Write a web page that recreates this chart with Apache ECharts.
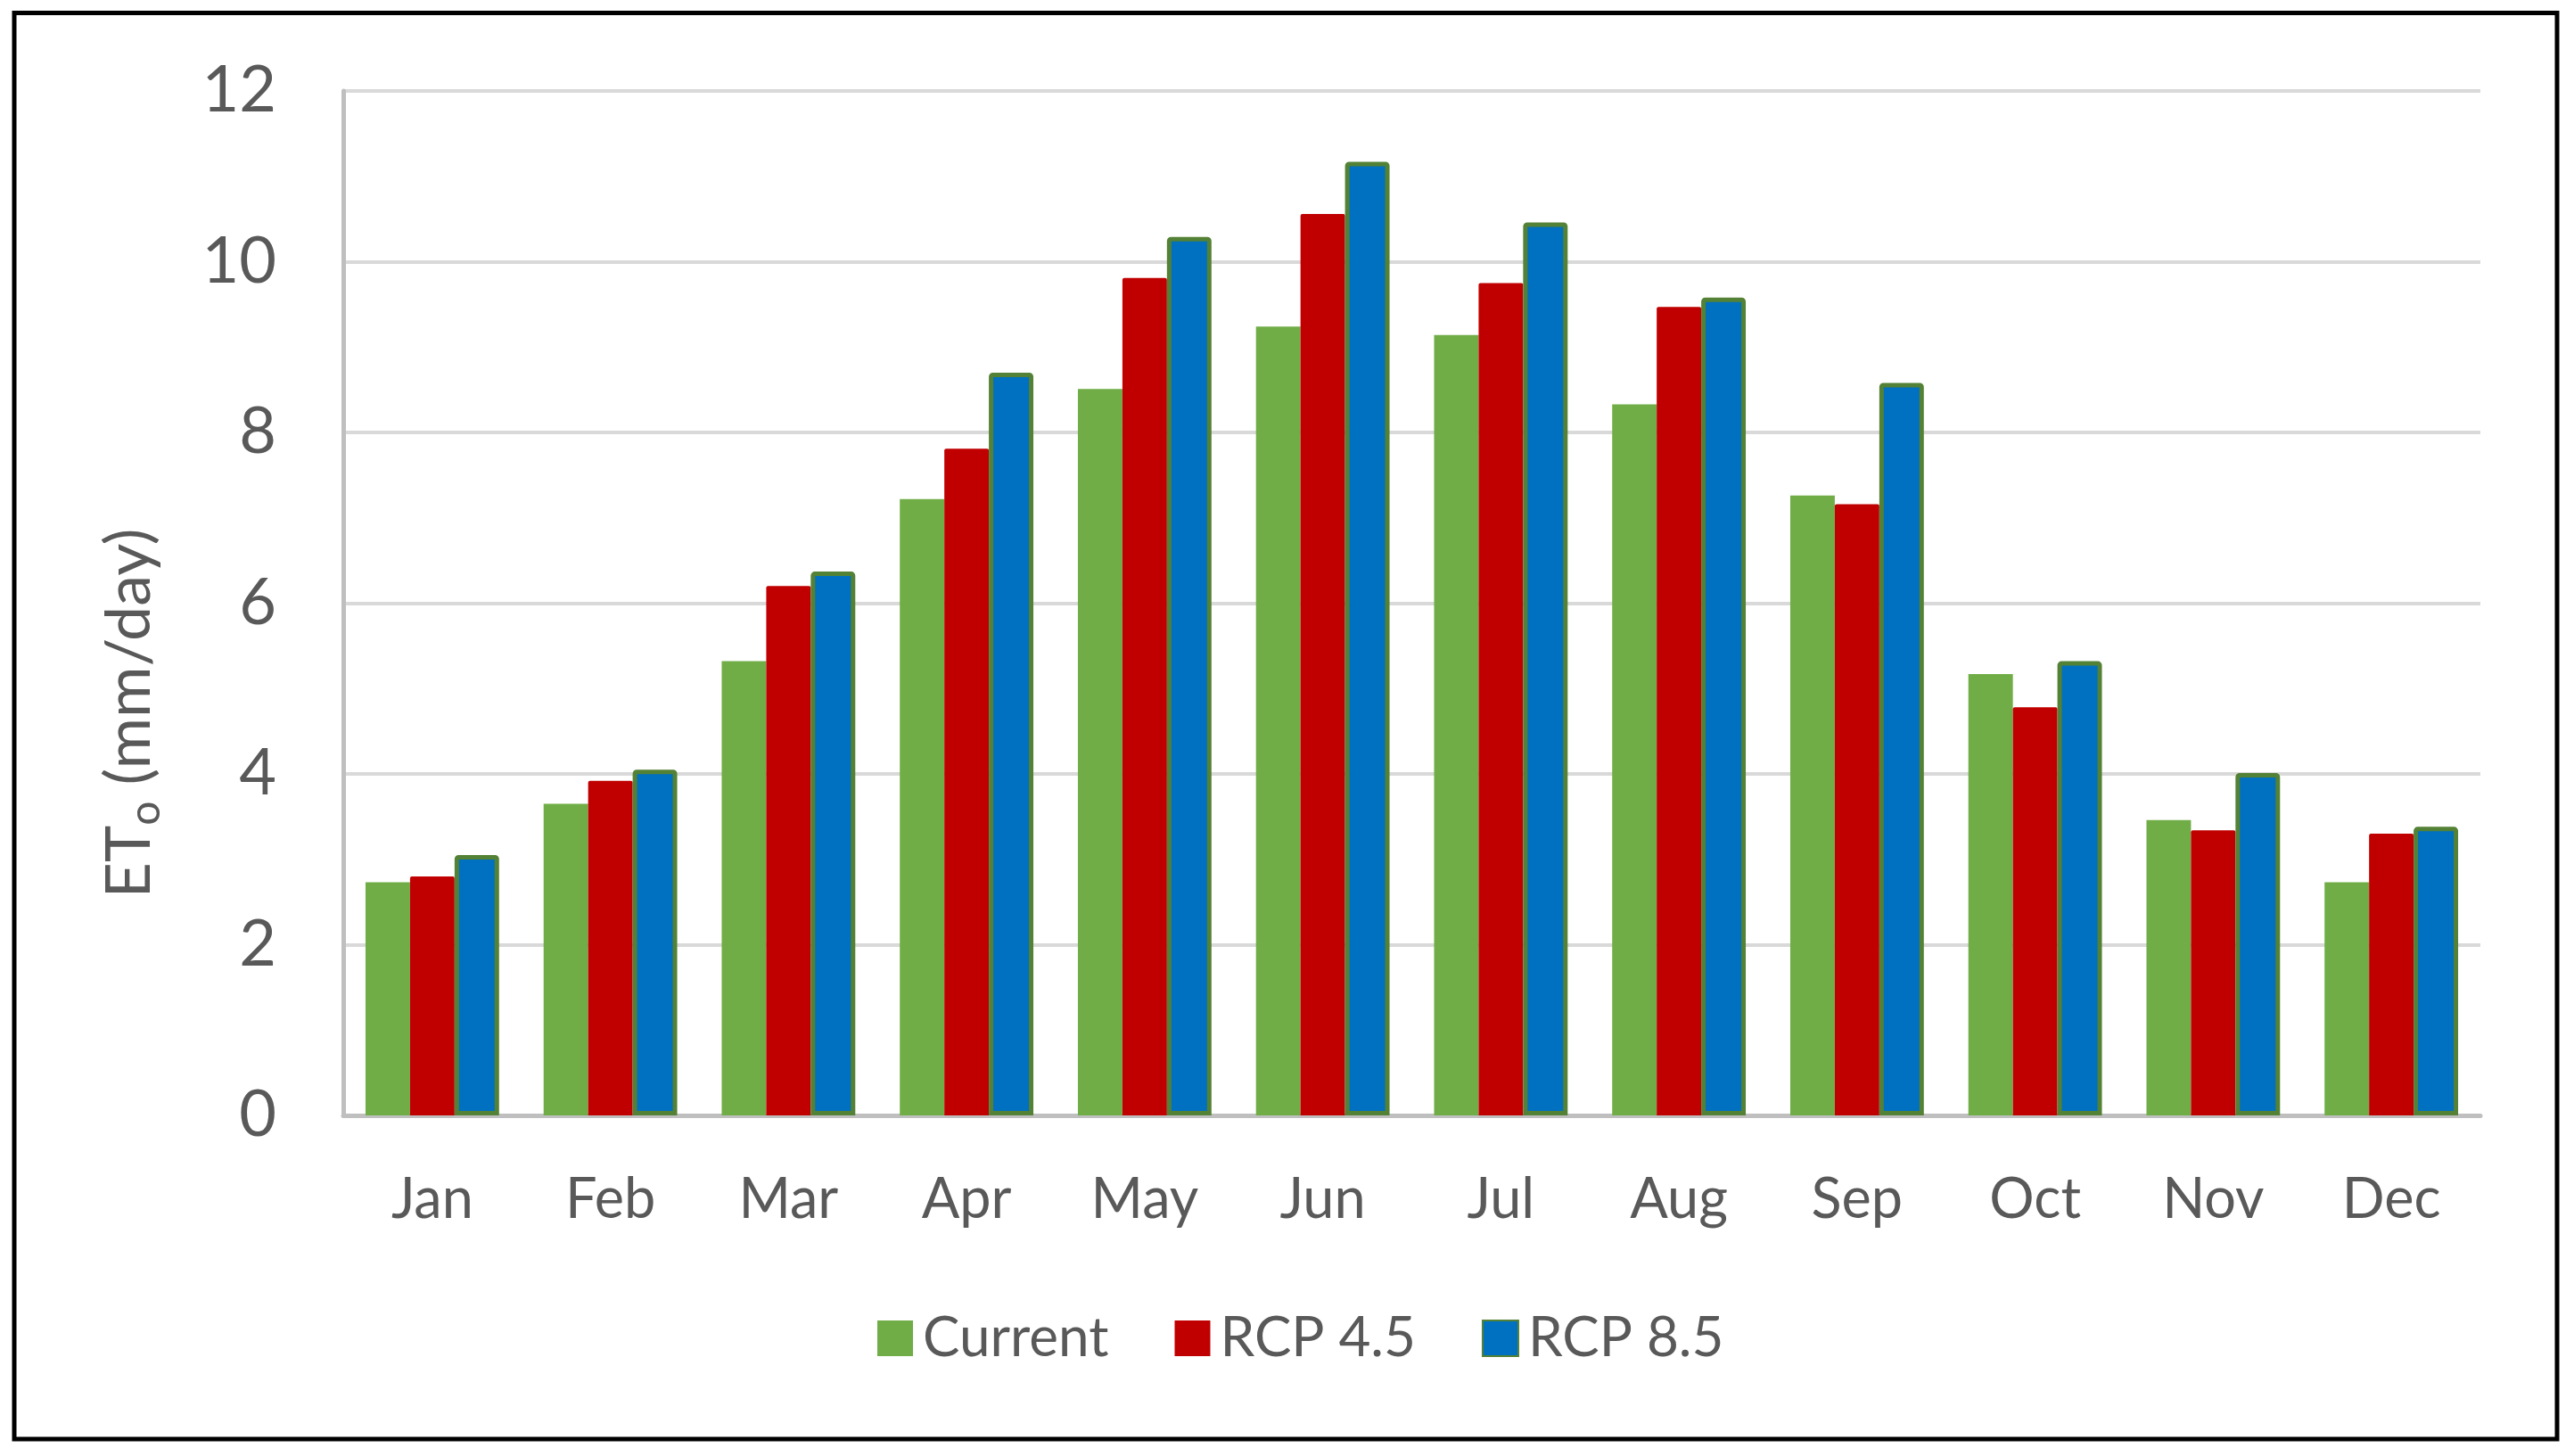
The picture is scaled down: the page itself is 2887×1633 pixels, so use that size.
<!DOCTYPE html>
<html>
<head>
<meta charset="utf-8">
<script src="https://cdn.jsdelivr.net/npm/echarts@6/dist/echarts.min.js"></script>
<style>
html,body{margin:0;padding:0;background:#fff;}
#chart{width:2887px;height:1633px;}
</style>
</head>
<body>
<div id="chart"></div>
<script>
var months = ['Jan','Feb','Mar','Apr','May','Jun','Jul','Aug','Sep','Oct','Nov','Dec'];
var currentVals = [2.73, 3.65, 5.32, 7.22, 8.51, 9.24, 9.14, 8.33, 7.26, 5.17, 3.46, 2.73];
var rcp45Vals   = [2.80, 3.92, 6.20, 7.81, 9.81, 10.56, 9.75, 9.47, 7.16, 4.78, 3.34, 3.30];
var rcp85Vals   = [3.05, 4.05, 6.37, 8.70, 10.29, 11.17, 10.46, 9.58, 8.58, 5.32, 4.01, 3.38];
var yTicks = [0, 2, 4, 6, 8, 10, 12];

var FONT = 'Lato';
var TXT = '#595959';
var chart = echarts.init(document.getElementById('chart'));
chart.setOption({
  backgroundColor: '#ffffff',
  animation: false,
  textStyle: {fontFamily: FONT},
  grid: {left: 385, right: 105, top: 102, bottom: 382, containLabel: false},
  legend: {
    top: 1465, left: 979,
    itemWidth: 40, itemHeight: 40, itemGap: 74,
    icon: 'rect',
    textStyle: {fontFamily: FONT, fontSize: 62, color: TXT, padding: [0, 0, 0, 6]},
    data: ['Current', 'RCP 4.5', 'RCP 8.5']
  },
  xAxis: {
    type: 'category',
    data: months,
    axisLine: {lineStyle: {color: '#bfbfbf', width: 5}},
    axisTick: {show: false},
    axisLabel: {fontFamily: FONT, fontSize: 63, color: TXT, margin: 63}
  },
  yAxis: {
    type: 'value',
    min: yTicks[0], max: yTicks[yTicks.length - 1], interval: 2,
    axisLine: {show: true, lineStyle: {color: '#bfbfbf', width: 5}},
    axisTick: {show: false},
    splitLine: {lineStyle: {color: '#d9d9d9', width: 4}},
    axisLabel: {fontFamily: FONT, fontSize: 72, color: TXT, margin: 75}
  },
  series: [
    {name: 'Current', type: 'bar', data: currentVals, barGap: '0%', barCategoryGap: '25%',
     itemStyle: {color: '#70ad47'}},
    {name: 'RCP 4.5', type: 'bar', data: rcp45Vals, barGap: '0%', barCategoryGap: '25%',
     itemStyle: {color: '#c00000', borderRadius: [2, 2, 0, 0]}},
    {name: 'RCP 8.5', type: 'bar', data: rcp85Vals, barGap: '0%', barCategoryGap: '25%',
     itemStyle: {color: '#0070c0', borderColor: '#538135', borderWidth: 5, borderRadius: [2, 2, 0, 0]}}
  ],
  graphic: [
    {type: 'rect', shape: {x: 16, y: 14.5, width: 2852, height: 1599.5},
     style: {fill: 'none', stroke: '#000000', lineWidth: 5}, z: 100, silent: true},
    {type: 'text', x: 145, y: 800, rotation: Math.PI / 2,
     style: {
       text: '{a|ET}{b|o}{a| (mm/day)}',
       fill: TXT,
       align: 'center', verticalAlign: 'middle',
       rich: {
         a: {fontFamily: FONT, fontSize: 70, fill: TXT, lineHeight: 80},
         b: {fontFamily: FONT, fontSize: 48, fill: TXT, lineHeight: 86, verticalAlign: 'bottom'}
       }
     }}
  ]
});
</script>
</body>
</html>
